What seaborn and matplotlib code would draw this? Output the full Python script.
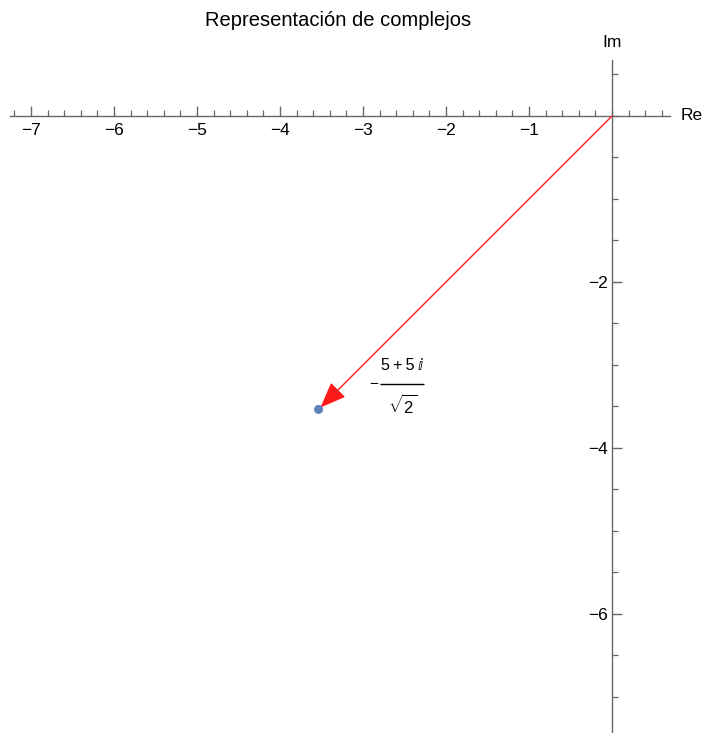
import numpy as np
import pandas as pd
import matplotlib
matplotlib.use("Agg")
import matplotlib.pyplot as plt
import matplotlib.transforms as mtransforms
import seaborn as sns
from matplotlib.ticker import FixedLocator

sns.set_theme(style="white")
plt.rcParams['font.family'] = ['Liberation Sans', 'DejaVu Sans']
plt.rcParams['mathtext.fontset'] = 'custom'
plt.rcParams['mathtext.rm'] = 'Liberation Sans'
plt.rcParams['mathtext.it'] = 'Liberation Sans:italic'
plt.rcParams['text.color'] = 'black'

# data
re_vals = [-3.5355]
im_vals = [-3.5355]
label_num = "5\u2009+\u20095\u2009\u2148"
label_den = r"$\sqrt{2}$"
title = "Representación de complejos"
x_major = [-7, -6, -5, -4, -3, -2, -1]
y_major = [-6, -4, -2]

df = pd.DataFrame({"Re": re_vals, "Im": im_vals})

fig = plt.figure(figsize=(7.03, 7.33), dpi=100)
ax = fig.add_axes([0, 0, 1, 1])
ppu = 83.0
ax.set_xlim((0 - 612) / ppu, (703 - 612) / ppu)
ax.set_ylim(-(733 - 116) / ppu, 116 / ppu)
ax.patch.set_alpha(0)

axis_col = "#666666"
for s in ["top", "right"]:
    ax.spines[s].set_visible(False)
ax.spines["bottom"].set_position(("data", 0))
ax.spines["left"].set_position(("data", 0))
ax.spines["bottom"].set_bounds(-7.25, 0.70)
ax.spines["left"].set_bounds(-7.45, 0.67)
for s in ["bottom", "left"]:
    ax.spines[s].set_color(axis_col)
    ax.spines[s].set_linewidth(1.0)

ax.xaxis.set_major_locator(FixedLocator(x_major))
ax.xaxis.set_minor_locator(FixedLocator(np.round(np.arange(-7.2, 0.61, 0.2), 2)))
ax.yaxis.set_major_locator(FixedLocator(y_major))
ax.yaxis.set_minor_locator(FixedLocator(np.arange(-7.0, 0.51, 0.5)))
ax.tick_params(axis="both", which="both", direction="in", color=axis_col)
ax.tick_params(axis="x", which="both", bottom=True, top=False)
ax.tick_params(axis="y", which="both", left=True, right=False)
ax.tick_params(axis="both", which="major", length=7.0, width=1,
               labelsize=12.5, labelcolor="black")
ax.tick_params(axis="both", which="minor", length=4.2, width=0.9)
ax.tick_params(axis="x", which="major", pad=5)
ax.tick_params(axis="y", which="major", pad=3)
ax.set_xticklabels([f"\u2212{abs(v)}" for v in x_major])
ax.set_yticklabels([f"\u2212{abs(v)}" for v in y_major])

ax.annotate("", xy=(re_vals[0], im_vals[0]), xytext=(0, 0),
            arrowprops=dict(arrowstyle="-|>,head_length=1.0,head_width=0.4",
                            mutation_scale=16, color="#ff1a1a", lw=1.0,
                            shrinkA=0, shrinkB=2), zorder=3)
sns.scatterplot(data=df, x="Re", y="Im", ax=ax, color="#5e81b5", s=42,
                edgecolor="none", zorder=4, legend=False)
ax.set_xlabel("")
ax.set_ylabel("")

# fraction label next to the point (offsets in points)
p = (re_vals[0], im_vals[0])
ax.annotate(label_num, xy=p, xytext=(60, 31.5), textcoords="offset points",
            ha="center", va="center", fontsize=11.5, color="black")
ax.annotate(label_den, xy=p, xytext=(60.5, 3), textcoords="offset points",
            ha="center", va="center", fontsize=12, color="black")
ax.annotate("\u2212", xy=p, xytext=(39.5, 18.5), textcoords="offset points",
            ha="center", va="center", fontsize=11, color="black")
off = fig.dpi_scale_trans + mtransforms.ScaledTranslation(p[0], p[1], ax.transData)
ax.plot([44.6 / 72, 75.6 / 72], [18.6 / 72, 18.6 / 72], transform=off,
        color="black", lw=1.0, solid_capstyle="butt")

ax.text(0, 0.89, "Im", ha="center", va="center", fontsize=12.5, color="black")
ax.text(0.83, 0, "Re", ha="left", va="center", fontsize=12.5, color="black")
fig.text(338 / 703, 1 - 20 / 733, title, ha="center", va="center",
         fontsize=14.5, color="black")

fig.savefig("out.png", dpi=100)
